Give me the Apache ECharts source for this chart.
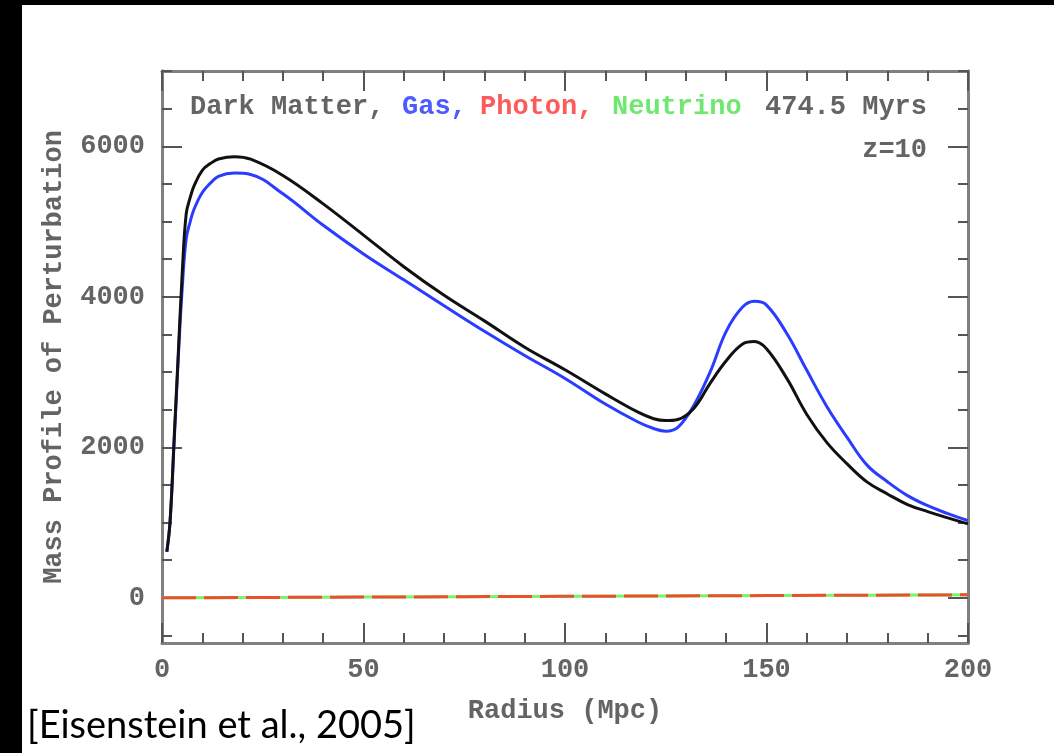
<!DOCTYPE html>
<html>
<head>
<meta charset="utf-8">
<script src="https://cdn.jsdelivr.net/npm/echarts@6/dist/echarts.min.js"></script>
<style>
html,body{margin:0;padding:0;background:#000;}
#chart{width:1054px;height:753px;}
</style>
</head>
<body>
<div id="chart"></div>
<script>
// ---- data ----
const radius = [1.2, 2, 3, 4, 5, 6, 7, 8, 10, 12, 14, 18, 22, 30, 40, 50, 60, 70, 80, 90, 100, 110, 118, 122, 125, 128, 132, 136, 140, 144, 147, 150, 155, 160, 165, 170, 175, 180, 185, 190, 195, 200];
const darkMatter = [613, 1013, 2100, 3200, 4300, 5100, 5320, 5480, 5680, 5770, 5830, 5862, 5828, 5612, 5235, 4820, 4400, 4020, 3680, 3330, 3030, 2710, 2470, 2380, 2355, 2370, 2520, 2850, 3150, 3370, 3405, 3310, 2919, 2437, 2062, 1780, 1537, 1380, 1240, 1146, 1062, 982];
const gas = [613, 1013, 2050, 3147, 4100, 4770, 5000, 5170, 5385, 5510, 5600, 5644, 5625, 5368, 4950, 4570, 4225, 3880, 3541, 3220, 2915, 2575, 2340, 2250, 2215, 2265, 2560, 3000, 3540, 3860, 3940, 3890, 3515, 3023, 2540, 2132, 1760, 1543, 1358, 1224, 1119, 1025];
const lowRadius = [0, 25, 50, 75, 100, 125, 150, 175, 200];
const photon = [0, 5, 10, 15, 20, 25, 30, 35, 40];
const neutrino = [0, 5, 10, 15, 20, 25, 30, 35, 40];
const yMajorTicks = [0, 2000, 4000, 6000];
const yMinorTicks = [-500, 500, 1000, 1500, 2500, 3000, 3500, 4500, 5000, 5500, 6500, 7000];

const pair = (xs, ys) => xs.map((x, i) => [x, ys[i]]);

const MONO = '"Liberation Mono", "DejaVu Sans Mono", monospace';
const TXT = '#646464';
const AXC = '#808080';
const TKC = '#555';
const FS = 27;

const chart = echarts.init(document.getElementById('chart'), null, {renderer: 'canvas'});

function xAx(pos, labels) {
  return {
    type: 'value', min: 0, max: 200, interval: 50, position: pos,
    axisLine: {show: true, onZero: false, lineStyle: {color: AXC, width: 3}},
    axisTick: {show: true, inside: true, length: 20, lineStyle: {color: TKC, width: 2}},
    minorTick: {show: true, splitNumber: 5, length: 10, lineStyle: {color: TKC, width: 2}},
    splitLine: {show: false}, minorSplitLine: {show: false},
    axisLabel: {show: labels, fontFamily: MONO, fontSize: FS, fontWeight: 'bold', color: TXT, margin: 14,
      formatter: v => String(v)},
    name: labels ? 'Radius (Mpc)' : '', nameLocation: 'middle', nameGap: 55,
    nameTextStyle: {fontFamily: MONO, fontSize: FS, fontWeight: 'bold', color: TXT}
  };
}
function yAx(pos, ticks, len, labels) {
  return {
    type: 'value', min: -600, max: 7000, position: pos,
    axisLine: {show: true, onZero: false, lineStyle: {color: AXC, width: 3}},
    axisTick: {show: true, inside: true, length: len, customValues: ticks, lineStyle: {color: TKC, width: 2}},
    splitLine: {show: false},
    axisLabel: labels ? {show: true, customValues: yMajorTicks, fontFamily: MONO, fontSize: FS, fontWeight: 'bold',
      color: TXT, margin: 17, formatter: v => String(v)} : {show: false},
    name: labels ? 'Mass Profile of Perturbation' : '', nameLocation: 'middle', nameRotate: 90, nameGap: 94,
    nameTextStyle: {fontFamily: MONO, fontSize: FS, fontWeight: 'bold', color: TXT}
  };
}

function txt(text, x, y, fill, align, font) {
  return {
    type: 'text', x: x, y: y, z: 10,
    style: {text: text, fill: fill, align: align || 'left', verticalAlign: 'middle',
      font: font || ('bold ' + FS + 'px ' + MONO)}
  };
}

const option = {
  animation: false,
  backgroundColor: '#fff',
  grid: {left: 162, right: 86, top: 71, bottom: 110},
  xAxis: [xAx('bottom', true), xAx('top', false)],
  yAxis: [
    yAx('left', yMajorTicks, 20, true),
    yAx('left', yMinorTicks, 10, false),
    yAx('right', yMajorTicks, 20, false),
    yAx('right', yMinorTicks, 10, false)
  ],
  series: [
    {name: 'Neutrino', type: 'line', data: pair(lowRadius, neutrino), showSymbol: false,
      lineStyle: {color: '#7cf26a', width: 3}},
    {name: 'Photon', type: 'line', data: pair(lowRadius, photon), showSymbol: false,
      lineStyle: {color: '#e8512c', width: 3, type: [34, 8]}},
    {name: 'Gas', type: 'line', data: pair(radius, gas), showSymbol: false, smooth: 0.4,
      lineStyle: {color: '#2a3cff', width: 3}},
    {name: 'Dark Matter', type: 'line', data: pair(radius, darkMatter), showSymbol: false, smooth: 0.4,
      lineStyle: {color: '#111', width: 3}}
  ],
  graphic: [
    {type: 'rect', shape: {x: 0, y: 0, width: 1054, height: 5}, style: {fill: '#000'}, z: 20},
    {type: 'rect', shape: {x: 0, y: 0, width: 22, height: 753}, style: {fill: '#000'}, z: 20},
    txt('Dark Matter,', 190, 107, TXT),
    txt('Gas,', 402, 107, '#4a5cff'),
    txt('Photon,', 480, 107, '#ff5a5a'),
    txt('Neutrino', 612, 107, '#6ee86e'),
    txt('474.5 Myrs', 927, 107, TXT, 'right'),
    txt('z=10', 927, 150, TXT, 'right'),
    txt('[Eisenstein et al., 2005]', 27, 726, '#000', 'left', '38px Lato, "Open Sans", sans-serif')
  ]
};
chart.setOption(option);
</script>
</body>
</html>
